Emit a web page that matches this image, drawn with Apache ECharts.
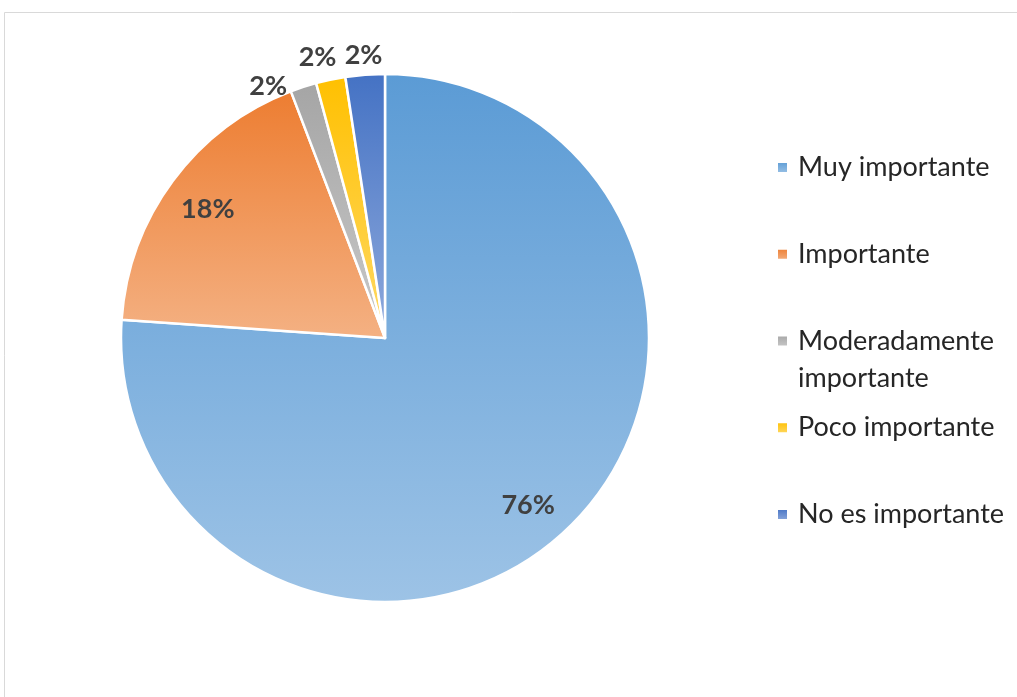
<!DOCTYPE html>
<html>
<head>
<meta charset="utf-8">
<script src="https://cdn.jsdelivr.net/npm/echarts@6/dist/echarts.min.js"></script>
<style>
  html, body { margin: 0; padding: 0; background: #ffffff; }
  #chart { width: 1017px; height: 697px; }
</style>
</head>
<body>
<div id="chart"></div>
<script>
// Survey answers: how important is it (share of responses, %)
const categories = ['Muy importante', 'Importante', 'Moderadamente importante', 'Poco importante', 'No es importante'];
const shares = [76.1, 18.1, 1.6, 1.8, 2.4];

// Office-like palette: base tone at the top of each slice, lighter tint at the bottom
const baseColors = ['#5B9BD5', '#ED7D31', '#A5A5A5', '#FFC000', '#4472C4'];
const tintColors = ['#9DC3E6', '#F4B183', '#C9C9C9', '#FFD966', '#8FAADC'];

const CENTER = [385, 338];
const RADIUS = 264;
const LABEL_FONT = 'Lato, "Open Sans", "DejaVu Sans", sans-serif';

function sliceGradient(i) {
  return new echarts.graphic.LinearGradient(0, 0, 0, 1, [
    { offset: 0, color: baseColors[i] },
    { offset: 1, color: tintColors[i] }
  ]);
}

const pieData = categories.map((name, i) => ({
  name: name,
  value: shares[i],
  itemStyle: { color: sliceGradient(i) }
}));

// transparent copies of the pie used only to place the percentage labels
const labelRingData = categories.map((name, i) => ({ name: name, value: shares[i] }));

// small nudges for individual percentage labels (index -> [dx, dy])
const labelOffsets = { 0: [-9, 4], 1: [2, 4], 2: [-29, 18], 3: [-9, -3] };

function withLabelOffset(d, i) {
  return labelOffsets[i]
    ? Object.assign({}, d, { label: { offset: labelOffsets[i] } })
    : d;
}

const pctLabel = {
  fontFamily: LABEL_FONT,
  fontWeight: 'bold',
  fontSize: 27,
  color: '#404040'
};

const legendTopFirst = 149;
const legendStep = 86.75;

// one legend block per entry so the wrapped entry keeps the even rhythm
const legends = categories.map((name, i) => ({
  data: [name],
  orient: 'vertical',
  left: 776,
  top: legendTopFirst + legendStep * i - (name === 'Moderadamente importante' ? 37 : 0),
  padding: 0,
  icon: 'rect',
  itemWidth: 11,
  itemHeight: 11,
  selectedMode: false,
  // leading blank line keeps the marker beside the first line of the wrapped entry
  formatter: n => (n === 'Moderadamente importante' ? '\nModeradamente\nimportante' : n),
  textStyle: {
    fontFamily: LABEL_FONT,
    fontSize: 27,
    lineHeight: 37,
    color: '#262626',
    padding: [0, 0, 0, 5]
  }
}));

const chart = echarts.init(document.getElementById('chart'), null, { renderer: 'canvas' });

chart.setOption({
  animation: false,
  backgroundColor: '#ffffff',
  graphic: [{
    type: 'rect',
    silent: true,
    shape: { x: 4.5, y: 12.5, width: 1040, height: 720 },
    style: { fill: 'none', stroke: '#d9d9d9', lineWidth: 1 }
  }],
  legend: legends,
  series: [
    {
      name: 'main',
      type: 'pie',
      center: CENTER,
      radius: RADIUS,
      startAngle: 90,
      clockwise: true,
      silent: true,
      data: pieData,
      itemStyle: { borderColor: '#ffffff', borderWidth: 2.5 },
      label: { show: false },
      labelLine: { show: false },
      emphasis: { disabled: true }
    },
    {
      // labels for the large slices, set well out towards the rim
      name: 'labels-inner',
      type: 'pie',
      center: CENTER,
      radius: [176, RADIUS],
      startAngle: 90,
      silent: true,
      legendHoverLink: false,
      percentPrecision: 0,
      data: labelRingData.map(withLabelOffset),
      itemStyle: { color: 'rgba(0,0,0,0)', borderWidth: 0 },
      label: Object.assign({
        show: true,
        position: 'inside',
        formatter: p => (p.value >= 10 ? p.percent + '%' : '')
      }, pctLabel),
      labelLine: { show: false },
      emphasis: { disabled: true }
    },
    {
      // labels for the thin slices, just outside the rim
      name: 'labels-outer',
      type: 'pie',
      center: CENTER,
      radius: [RADIUS - 2, RADIUS + 36],
      startAngle: 90,
      silent: true,
      legendHoverLink: false,
      percentPrecision: 0,
      data: labelRingData.map(withLabelOffset),
      itemStyle: { color: 'rgba(0,0,0,0)', borderWidth: 0 },
      label: Object.assign({
        show: true,
        position: 'inside',
        formatter: p => (p.value < 10 ? p.percent + '%' : '')
      }, pctLabel),
      labelLine: { show: false },
      emphasis: { disabled: true }
    }
  ]
});
</script>
</body>
</html>
